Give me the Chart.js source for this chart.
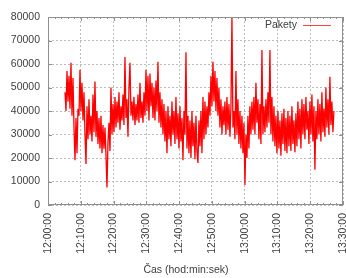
<!DOCTYPE html>
<html>
<head>
<meta charset="utf-8">
<script src="https://cdn.jsdelivr.net/npm/chart.js@4/dist/chart.umd.min.js"></script>
<style>
  html, body { margin: 0; padding: 0; background: #fff; }
  #wrap { width: 346px; height: 278px; }
</style>
</head>
<body>
<div id="wrap"><canvas id="chart-pakety"></canvas></div>
<script>
// time axis in seconds from 12:00:00
const startSec = 311;   // first sample ~12:05:11
const stepSec = 18.3;
const xTicks = [0, 600, 1200, 1800, 2400, 3000, 3600, 4200, 4800, 5400];
const yTicks = [0, 10000, 20000, 30000, 40000, 50000, 60000, 70000, 80000];
const seriesLabel = "Pakety";
const axisTitle = "Čas (hod:min:sek)";

// packet counts, one sample after another
const pakety = [
  48000, 40000, 57000, 44000, 55000, 41000, 60500, 38000, 54000, 33000,
  19000, 37000, 22000, 41000, 38000, 57500, 40000, 52000, 36000, 48000,
  30000, 17500, 42000, 28000, 45000, 30000, 38000, 27000, 47000, 31000,
  52500, 29000, 40000, 26000, 37000, 24000, 38000, 22000, 34000, 24000,
  33000, 21000, 7500, 27000, 35000, 23000, 50000, 30000, 43000, 31000,
  46000, 33000, 44000, 35000, 48000, 32000, 42000, 36000, 47000, 34000,
  63000, 37000, 45000, 29000, 50000, 60500, 38000, 44000, 36000, 46000,
  34000, 43000, 36000, 47000, 35000, 52000, 37000, 44000, 35000, 48000,
  38000, 57500, 40000, 55000, 36000, 56000, 42000, 52000, 37000, 50000,
  36000, 53000, 40000, 61000, 35000, 48000, 33000, 45000, 30000, 43000,
  27000, 40000, 22000, 42000, 28000, 38000, 25000, 44000, 30000, 40000,
  26000, 46000, 28000, 39000, 24000, 42000, 27000, 37000, 19000, 40000,
  30000, 65000, 24000, 38000, 22000, 36000, 20000, 40000, 25000, 35000,
  19500, 38000, 23000, 17900, 36000, 25000, 40000, 22000, 46000, 28000,
  44000, 30000, 42000, 33000, 48000, 38000, 55000, 42000, 61000, 44000,
  57000, 40000, 54000, 38000, 50000, 33000, 45000, 30000, 42000, 34000,
  44000, 30000, 46000, 32000, 43000, 29000, 42000, 80000, 33000, 40000,
  28000, 57000, 30000, 45000, 26000, 40000, 24000, 38000, 22000, 35000,
  8500, 30000, 20000, 38000, 24000, 42000, 30000, 44000, 32000, 46000,
  30000, 52000, 35000, 45000, 28000, 43000, 26000, 66000, 30000, 42000,
  31000, 45000, 33000, 48000, 35000, 66000, 30000, 46000, 27000, 42000,
  25000, 38000, 22000, 40000, 24000, 36000, 21000, 39000, 26000, 41000,
  23000, 37000, 22000, 40000, 25000, 38000, 23000, 42000, 26000, 36000,
  22500, 39000, 25000, 44000, 28000, 41000, 24000, 45000, 30000, 43000,
  28000, 46000, 32000, 40000, 26000, 44000, 30000, 47000, 27000, 42000,
  15000, 40000, 28000, 45000, 30000, 43000, 27000, 48000, 31000, 41000,
  29000, 50000, 33000, 45000, 30000, 54600, 34000, 44000, 31000, 40000,
];

const textColor = "#404040";
const frameColor = "#909090";
const gridColor = "#bdbdbd";
const lineColor = "#ff0000";
const fontFamily = "'Liberation Sans', Arial, sans-serif";

function fmtTime(sec) {
  const h = 12 + Math.floor(sec / 3600);
  const m = Math.floor((sec % 3600) / 60);
  const s = Math.floor(sec % 60);
  return h + ":" + String(m).padStart(2, "0") + ":" + String(s).padStart(2, "0");
}

// gnuplot-like box, inward ticks, legend inside the plot and axis title
const gnuplotLook = {
  id: "gnuplotLook",
  afterDraw(chart) {
    const ctx = chart.ctx;
    const a = chart.chartArea;
    const xs = chart.scales.x;
    const ys = chart.scales.y;
    ctx.save();
    ctx.setLineDash([]);
    ctx.strokeStyle = frameColor;
    ctx.lineWidth = 1;
    ctx.strokeRect(a.left + 0.5, a.top + 0.5, a.right - a.left - 1, a.bottom - a.top - 1);

    ctx.beginPath();
    for (let t = 0; t <= 5400; t += 120) {
      const px = Math.round(xs.getPixelForValue(t)) + 0.5;
      const len = t % 600 === 0 ? 4 : 2;
      ctx.moveTo(px, a.bottom);
      ctx.lineTo(px, a.bottom - len);
      ctx.moveTo(px, a.top);
      ctx.lineTo(px, a.top + len);
    }
    yTicks.forEach((v) => {
      const py = Math.round(ys.getPixelForValue(v)) + 0.5;
      ctx.moveTo(a.left, py);
      ctx.lineTo(a.left + 4, py);
      ctx.moveTo(a.right, py);
      ctx.lineTo(a.right - 4, py);
    });
    ctx.stroke();

    // legend
    ctx.font = "10.5px " + fontFamily;
    ctx.fillStyle = textColor;
    ctx.textAlign = "right";
    ctx.textBaseline = "middle";
    ctx.fillText(seriesLabel, 297, 25);
    ctx.fillStyle = "#ff4040";
    ctx.fillRect(303, 25, 28, 1);

    // x axis title
    ctx.fillStyle = textColor;
    ctx.textAlign = "center";
    ctx.fillText(axisTitle, 186, 270);
    ctx.restore();
  },
};

const ctx = document.getElementById("chart-pakety").getContext("2d");
new Chart(ctx, {
  type: "line",
  data: {
    datasets: [
      {
        label: seriesLabel,
        data: pakety.map((v, i) => ({ x: startSec + i * stepSec, y: v })),
        borderColor: lineColor,
        borderWidth: 1.3,
        pointRadius: 0,
        tension: 0,
        fill: false,
      },
    ],
  },
  options: {
    responsive: true,
    maintainAspectRatio: false,
    animation: false,
    layout: { padding: { top: 17, right: 3, left: 0, bottom: 0 } },
    plugins: {
      legend: { display: false },
      tooltip: { enabled: false },
    },
    scales: {
      x: {
        type: "linear",
        min: 0,
        max: 5400,
        afterBuildTicks: (scale) => {
          scale.ticks = xTicks.map((v) => ({ value: v }));
        },
        afterFit: (scale) => {
          scale.height = 73;
          scale.paddingLeft = 0;
          scale.paddingRight = 0;
        },
        ticks: {
          callback: (v) => fmtTime(v),
          minRotation: 90,
          maxRotation: 90,
          padding: 8,
          color: textColor,
          font: { family: fontFamily, size: 10.5 },
        },
        grid: { color: gridColor, drawTicks: false },
        border: { display: false, dash: [2, 2] },
      },
      y: {
        min: 0,
        max: 80000,
        afterBuildTicks: (scale) => {
          scale.ticks = yTicks.map((v) => ({ value: v }));
        },
        afterFit: (scale) => {
          scale.width = 48;
          scale.paddingTop = 0;
          scale.paddingBottom = 0;
        },
        ticks: {
          callback: (v) => String(v),
          padding: 8,
          color: textColor,
          font: { family: fontFamily, size: 10.5 },
        },
        grid: { color: gridColor, drawTicks: false },
        border: { display: false, dash: [2, 2] },
      },
    },
  },
  plugins: [gnuplotLook],
});
</script>
</body>
</html>
